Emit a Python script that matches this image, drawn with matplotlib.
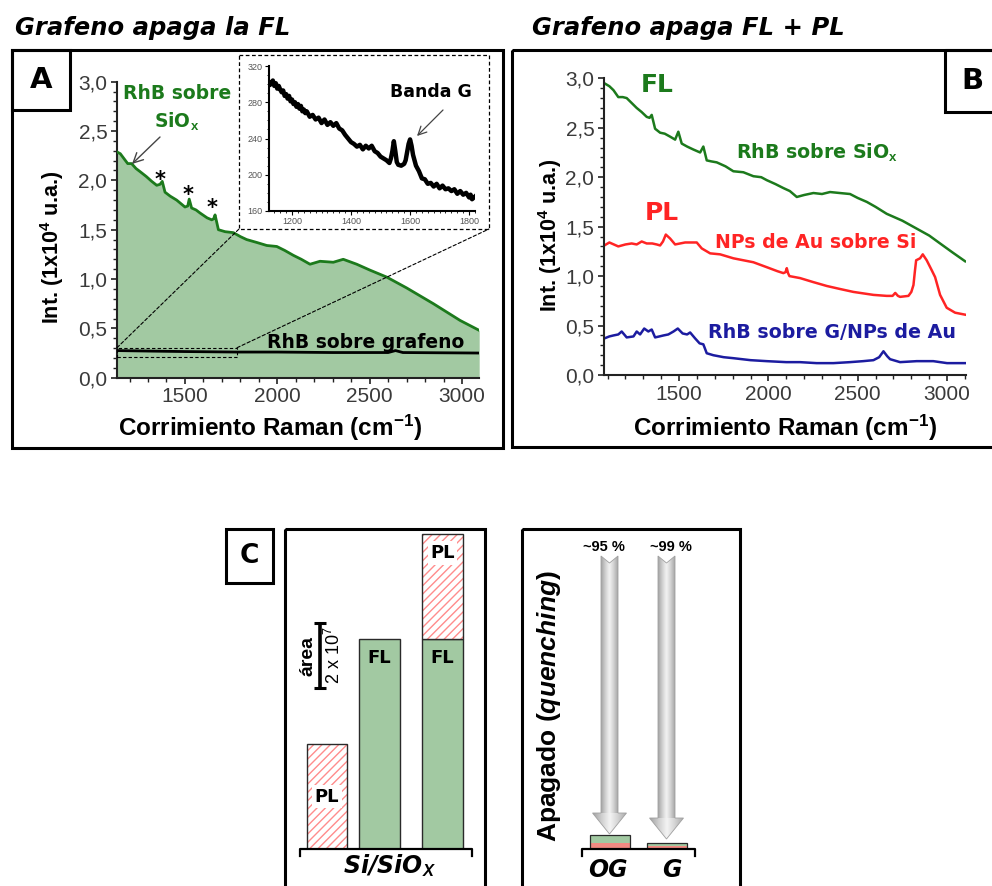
import numpy as np
import matplotlib
matplotlib.use('Agg')
import matplotlib.pyplot as plt
from matplotlib.patches import Rectangle, Polygon, ConnectionPatch
from matplotlib.ticker import MultipleLocator, FuncFormatter
from matplotlib.colors import LinearSegmentedColormap

plt.rcParams['font.family'] = ['DejaVu Sans']
plt.rcParams['mathtext.fontset'] = 'custom'
plt.rcParams['mathtext.rm'] = 'Liberation Sans:bold'
plt.rcParams['mathtext.it'] = 'Liberation Sans:bold:italic'
plt.rcParams['mathtext.bf'] = 'Liberation Sans:bold'
plt.rcParams['mathtext.sf'] = 'Liberation Sans'
plt.rcParams['hatch.linewidth'] = 1.0
NARROW = ['Liberation Sans', 'DejaVu Sans']

# ---------------- data ----------------
# Panel A: RhB on SiOx (fluorescence) and RhB on graphene, intensity in 1e4 a.u.
a_fl_x = [1130, 1150, 1170, 1190, 1211, 1235, 1256, 1290, 1320, 1347, 1365, 1377, 1392,
          1420, 1455, 1500, 1515, 1523, 1536, 1560, 1581, 1620, 1645, 1655, 1663, 1681,
          1717, 1762, 1800, 1834, 1890, 1943, 1997, 2040, 2087, 2130, 2177, 2231, 2303,
          2357, 2430, 2502, 2592, 2700, 2845, 2990, 3093]
a_fl_y = [2.29, 2.27, 2.22, 2.17, 2.17, 2.12, 2.09, 2.04, 1.99, 1.95, 1.96, 1.99, 1.88,
          1.84, 1.80, 1.73, 1.74, 1.81, 1.72, 1.70, 1.67, 1.62, 1.60, 1.61, 1.65, 1.50,
          1.48, 1.47, 1.43, 1.40, 1.37, 1.34, 1.33, 1.29, 1.24, 1.20, 1.15, 1.18, 1.17,
          1.20, 1.15, 1.09, 1.02, 0.91, 0.75, 0.58, 0.48]
a_g_x = [1130, 1300, 1500, 1780, 2000, 2300, 2600, 2640, 2680, 3093]
a_g_y = [0.275, 0.27, 0.265, 0.26, 0.26, 0.255, 0.255, 0.275, 0.255, 0.25]

# Inset: raw Raman spectrum of RhB on graphene (counts)
ins_x = [1120, 1125, 1130, 1135, 1140, 1145, 1150, 1155, 1160, 1165, 1170, 1175, 1180,
         1185, 1190, 1195, 1200, 1205, 1210, 1215, 1220, 1225, 1230, 1235, 1240, 1245,
         1250, 1260, 1270, 1280, 1290, 1300, 1310, 1320, 1330, 1340, 1350, 1360, 1370,
         1380, 1390, 1400, 1410, 1420, 1430, 1440, 1450, 1460, 1470, 1480, 1490, 1500,
         1510, 1520, 1530, 1535, 1540, 1545, 1550, 1555, 1560, 1570, 1580, 1585, 1590,
         1595, 1600, 1605, 1610, 1620, 1630, 1640, 1650, 1660, 1670, 1680, 1690, 1700,
         1710, 1720, 1730, 1740, 1750, 1760, 1770, 1780, 1790, 1800, 1805, 1810, 1820]
ins_y = [303, 299, 301, 304, 298, 301, 295, 298, 294, 291, 293, 287, 289, 284,
         287, 281, 283, 278, 280, 275, 278, 273, 276, 270, 272, 268,
         270, 264, 266, 261, 263, 257, 261, 255, 258, 254, 257, 251, 249,
         244, 240, 236, 234, 231, 233, 228, 232, 229, 232, 226, 224, 220,
         218, 216, 213, 218, 226, 237, 226, 214, 211, 210, 212, 216, 225,
         234, 239, 232, 222, 210, 204, 196, 195, 190, 191, 187, 190, 185,
         188, 184, 185, 182, 184, 179, 182, 178, 180, 175, 178, 173, 176]

# Panel B: FL of RhB on SiOx, PL of Au NPs on Si, RhB on graphene/Au NPs
b_fl_x = [1082, 1110, 1133, 1160, 1185, 1207, 1235, 1263, 1290, 1319, 1335, 1347, 1366,
          1394, 1420, 1450, 1478, 1496, 1515, 1545, 1580, 1618, 1636, 1655, 1680, 1711,
          1760, 1804, 1860, 1916, 1960, 1991, 2040, 2084, 2120, 2159, 2200, 2252, 2300,
          2345, 2400, 2457, 2500, 2551, 2600, 2662, 2750, 2830, 2900, 2961, 3030, 3101]
b_fl_y = [2.95, 2.92, 2.88, 2.81, 2.81, 2.80, 2.75, 2.70, 2.66, 2.61, 2.60, 2.63, 2.49,
          2.45, 2.44, 2.41, 2.38, 2.46, 2.34, 2.31, 2.28, 2.25, 2.31, 2.17, 2.16, 2.15,
          2.11, 2.06, 2.05, 2.01, 2.00, 1.97, 1.93, 1.89, 1.86, 1.80, 1.82, 1.84, 1.83,
          1.85, 1.84, 1.83, 1.79, 1.75, 1.70, 1.63, 1.56, 1.48, 1.41, 1.33, 1.24, 1.15]
b_pl_x = [1082, 1110, 1135, 1160, 1200, 1235, 1263, 1291, 1319, 1350, 1375, 1394, 1410,
          1426, 1450, 1478, 1534, 1599, 1627, 1674, 1730, 1804, 1860, 1916, 1991, 2050,
          2084, 2096, 2103, 2110, 2118, 2177, 2250, 2327, 2400, 2476, 2588, 2662, 2695,
          2710, 2725, 2737, 2784, 2800, 2812, 2820, 2827, 2849, 2864, 2886, 2914, 2933,
          2961, 2998, 3045, 3101]
b_pl_y = [1.31, 1.34, 1.32, 1.30, 1.32, 1.33, 1.32, 1.35, 1.33, 1.33, 1.32, 1.31, 1.35,
          1.42, 1.38, 1.32, 1.34, 1.34, 1.28, 1.23, 1.22, 1.18, 1.16, 1.14, 1.09, 1.05,
          1.03, 1.04, 1.08, 1.03, 1.00, 0.98, 0.94, 0.90, 0.87, 0.84, 0.81, 0.80, 0.80,
          0.83, 0.80, 0.79, 0.80, 0.84, 0.91, 1.05, 1.16, 1.18, 1.22, 1.16, 1.06, 0.99,
          0.81, 0.68, 0.63, 0.61]
b_bl_x = [1082, 1110, 1133, 1160, 1179, 1207, 1245, 1263, 1282, 1305, 1328, 1347, 1366,
          1390, 1413, 1440, 1469, 1493, 1520, 1545, 1562, 1590, 1615, 1636, 1655, 1692,
          1750, 1804, 1900, 1991, 2100, 2177, 2270, 2364, 2457, 2530, 2588, 2620, 2644,
          2665, 2681, 2737, 2830, 2923, 3000, 3101]
b_bl_y = [0.37, 0.39, 0.40, 0.41, 0.44, 0.38, 0.39, 0.44, 0.41, 0.47, 0.44, 0.46, 0.38,
          0.39, 0.40, 0.41, 0.44, 0.47, 0.42, 0.41, 0.43, 0.37, 0.32, 0.31, 0.22, 0.20,
          0.18, 0.17, 0.15, 0.14, 0.13, 0.13, 0.12, 0.12, 0.13, 0.14, 0.15, 0.18, 0.24,
          0.19, 0.16, 0.13, 0.14, 0.14, 0.12, 0.12]

# Panel C: integrated areas (x 1e7) on Si/SiOx
c_pos = [0, 1, 2.2]
c_fl = [0.0, 6.46, 6.46]
c_pl = [3.23, 0.0, 3.23]
# Panel C (right): residual emission after quenching, same units
q_labels = ['OG', 'G']
q_pos = [0, 1]
q_pl = [0.20, 0.08]
q_fl = [0.24, 0.10]
q_text = ['~95 %', '~99 %']

GREEN_LINE = '#1c7a1c'
GREEN_FILL = '#a2c9a2'
RED = '#ff2424'
BLUE = '#1c1ca0'
SALMON = '#f28a82'

W, H = 992, 886
fig = plt.figure(figsize=(W / 100, H / 100), dpi=100)


def px_axes(l, t, r, b, **kw):
    return fig.add_axes([l / W, 1 - b / H, (r - l) / W, (b - t) / H], **kw)


comma = FuncFormatter(lambda v, p: f'{v:.1f}'.replace('.', ','))


def style_spectrum(ax, xlim):
    ax.set_xlim(*xlim)
    ax.set_ylim(0, 3.0)
    ax.patch.set_alpha(0)
    for s in ('top', 'right'):
        ax.spines[s].set_visible(False)
    for s in ('left', 'bottom'):
        ax.spines[s].set_linewidth(1.5)
        ax.spines[s].set_color('#222222')
    ax.xaxis.set_major_locator(MultipleLocator(500))
    ax.xaxis.set_minor_locator(MultipleLocator(100))
    ax.yaxis.set_major_locator(MultipleLocator(0.5))
    ax.yaxis.set_minor_locator(MultipleLocator(0.1))
    ax.yaxis.set_major_formatter(comma)
    ax.tick_params(which='major', direction='out', length=4.5, width=1.2, color='#222222',
                   labelsize=15, labelcolor='#3a3a3a', pad=2.5)
    ax.tick_params(which='minor', direction='out', length=2.6, width=1.0, color='#222222')
    for lab in ax.get_xticklabels() + ax.get_yticklabels():
        lab.set_family(NARROW)


# ---------------- panel A ----------------
axA = px_axes(117, 81.7, 479, 377.7)
style_spectrum(axA, (1132, 3092))
axA.fill_between(a_fl_x, a_fl_y, 0, color=GREEN_FILL, lw=0, zorder=1)
axA.plot(a_fl_x, a_fl_y, color=GREEN_LINE, lw=2.0, zorder=3)
axA.plot(a_g_x, a_g_y, color='black', lw=2.0, zorder=3)
axA.add_patch(Rectangle((1132, 0.207), 1782 - 1132, 0.097, fill=False, ec='black',
                        lw=0.8, ls=(0, (3, 2)), zorder=4, clip_on=False))

# inset
axI = px_axes(269, 66, 475, 211)
axI.plot(ins_x, ins_y, color='black', lw=3.2)
axI.set_xlim(1122, 1820)
axI.set_ylim(160, 320)
for s in ('top', 'right'):
    axI.spines[s].set_visible(False)
for s in ('left', 'bottom'):
    axI.spines[s].set_linewidth(1.5)
axI.xaxis.set_major_locator(MultipleLocator(200))
axI.xaxis.set_minor_locator(MultipleLocator(20))
axI.yaxis.set_major_locator(MultipleLocator(40))
axI.yaxis.set_minor_locator(MultipleLocator(10))
axI.tick_params(which='major', direction='out', length=3, width=0.8,
                labelsize=6.5, labelcolor='#555555', pad=1.5)
axI.tick_params(which='minor', direction='out', length=1.6, width=0.6)
for lab in axI.get_xticklabels() + axI.get_yticklabels():
    lab.set_family(NARROW)

# ---------------- panel B ----------------
axB = px_axes(604, 78.3, 966, 375)
style_spectrum(axB, (1080, 3106))
axB.plot(b_fl_x, b_fl_y, color=GREEN_LINE, lw=1.8)
axB.plot(b_pl_x, b_pl_y, color=RED, lw=1.8)
axB.plot(b_bl_x, b_bl_y, color=BLUE, lw=1.8)

# ---------------- panel C (left) ----------------
YMAX = 320 / 32.5
axC = px_axes(285, 529, 485, 849)
axC.set_xlim(-0.8, 3.01)
axC.set_ylim(0, YMAX)
axC.axis('off')
bw = 0.78
for x, fl, pl in zip(c_pos, c_fl, c_pl):
    if fl > 0:
        axC.bar(x, fl, width=bw, color=GREEN_FILL, edgecolor='#2a2a2a', lw=1.0)
        axC.text(x, fl - 0.58, 'FL', ha='center', va='center', fontsize=13,
                 fontweight='bold')
    if pl > 0:
        axC.bar(x, pl, bottom=fl, width=bw, color='white', edgecolor='#ff8c8c',
                hatch='////', lw=0)
        axC.bar(x, pl, bottom=fl, width=bw, fill=False, edgecolor='#2a2a2a', lw=1.0)
        ty = fl + pl - 0.58 if fl > 0 else pl / 2
        axC.text(x, ty, 'PL', ha='center', va='center', fontsize=13,
                 fontweight='bold',
                 bbox=dict(fc='white', ec='none', boxstyle='square,pad=0.15'))
# baseline bracket
axC.plot([-0.51, -0.51, 2.76, 2.76], [-0.21, 0, 0, -0.21], color='black', lw=1.6,
         clip_on=False)
# scale bar for area
axC.errorbar([-0.14], [5.95], yerr=[1.0], color='black', lw=2.6, capsize=4,
             capthick=2.2)
axC.text(-0.36, 5.95, 'área', rotation=90, ha='center', va='center', fontsize=14,
         fontweight='bold', family=NARROW)
axC.text(0.13, 5.95, '2 x 10$^{\\mathsf{7}}$', rotation=90, ha='center', va='center',
         fontsize=13, family=NARROW)

# ---------------- panel C (right) ----------------
axQ = px_axes(522, 529, 740, 849)
axQ.set_xlim(-1.544, 2.281)
axQ.set_ylim(0, YMAX)
axQ.axis('off')
qw = 0.70
axQ.bar(q_pos, q_pl, width=qw, color=SALMON, lw=0)
axQ.bar(q_pos, q_fl, bottom=q_pl, width=qw, color=GREEN_FILL, lw=0)
axQ.bar(q_pos, np.add(q_pl, q_fl), width=qw, fill=False, edgecolor='#2a2a2a', lw=0.9)
axQ.plot([-0.49, -0.49, 1.49, 1.49], [-0.21, 0, 0, -0.21], color='black', lw=1.6,
         clip_on=False)

# ---------------- overlay in pixel coordinates ----------------
ax_o = fig.add_axes([0, 0, 1, 1], zorder=10)
ax_o.set_xlim(0, W)
ax_o.set_ylim(H, 0)
ax_o.set_autoscale_on(False)
ax_o.axis('off')
ax_o.patch.set_alpha(0)


def frame(x0, y0, x1, y1, lw=2.2, **kw):
    ax_o.add_patch(Rectangle((x0, y0), x1 - x0, y1 - y0, fill=False, ec='black', lw=lw,
                             clip_on=False, **kw))


frame(12, 50, 503, 448)
frame(12, 50, 70, 110)
frame(512, 50, 1000, 447)
frame(945, 50, 1000, 112)
frame(226, 529, 273, 583)
frame(285, 529, 485, 900)
frame(522, 529, 740, 900)
frame(239, 55, 489, 229, lw=0.9, ls=(0, (3, 2)))

for xa, xb in ((1132, (239, 229)), (1782, (489, 229))):
    cp = ConnectionPatch(xyA=(xa, 0.304), coordsA=axA.transData, xyB=xb,
                         coordsB=ax_o.transData, ls=(0, (3, 2)), lw=0.8, color='black',
                         zorder=5)
    fig.add_artist(cp)

# titles and panel letters
ax_o.text(15, 35, 'Grafeno apaga la FL', fontsize=17.5, fontweight='bold',
          fontstyle='oblique', ha='left', va='baseline')
ax_o.text(532, 35, 'Grafeno apaga FL + PL', fontsize=17.5, fontweight='bold',
          fontstyle='oblique', ha='left', va='baseline')
ax_o.text(41, 80, 'A', fontsize=21, fontweight='bold', ha='center', va='center')
ax_o.text(972, 81, 'B', fontsize=21, fontweight='bold', ha='center', va='center')
ax_o.text(249.5, 556, 'C', fontsize=19, fontweight='bold', ha='center', va='center')

# axis labels
for x, y in ((52, 247), (550, 235)):
    ax_o.text(x, y, 'Int. (1x10$^4$ u.a.)', rotation=90, fontsize=15.5,
              fontweight='bold', ha='center', va='center', family=NARROW)
for x in (270, 785):
    ax_o.text(x, 428, 'Corrimiento Raman (cm$^{-1}$)', fontsize=17.5, fontweight='bold',
              ha='center', va='center', family=NARROW)

# panel A annotations
ax_o.text(177, 93, 'RhB sobre', color=GREEN_LINE, fontsize=13.5, fontweight='bold',
          ha='center', va='center')
ax_o.text(177, 121, 'SiO$_\\mathrm{x}$', color=GREEN_LINE, fontsize=13.5,
          fontweight='bold', ha='center', va='center')
ax_o.annotate('', xy=(132, 164), xytext=(160, 137),
              arrowprops=dict(arrowstyle='->,head_length=0.7,head_width=0.35',
                              color='#444444', lw=1.0, shrinkA=0, shrinkB=0))
for sx, sy in ((160, 180), (188, 195), (212, 208)):
    ax_o.text(sx, sy, '*', fontsize=15, fontweight='bold', ha='center', va='center')
ax_o.text(366, 342, 'RhB sobre grafeno', fontsize=13.5, fontweight='bold',
          ha='center', va='center')
ax_o.text(431, 92, 'Banda G', fontsize=12.5, fontweight='bold', ha='center', va='center')
ax_o.annotate('', xy=(417, 136), xytext=(443, 110),
              arrowprops=dict(arrowstyle='->,head_length=0.6,head_width=0.3',
                              color='#444444', lw=0.9, shrinkA=0, shrinkB=0))

# panel B annotations
ax_o.text(657, 85, 'FL', color=GREEN_LINE, fontsize=18, fontweight='bold',
          ha='center', va='center')
ax_o.text(662, 213, 'PL', color=RED, fontsize=18, fontweight='bold',
          ha='center', va='center')
ax_o.text(817, 152, 'RhB sobre SiO$_\\mathrm{x}$', color=GREEN_LINE, fontsize=13.7,
          fontweight='bold', ha='center', va='center')
ax_o.text(816, 242, 'NPs de Au sobre Si', color=RED, fontsize=13.6,
          fontweight='bold', ha='center', va='center')
ax_o.text(832, 333, 'RhB sobre G/NPs de Au', color=BLUE, fontsize=13.7,
          fontweight='bold', ha='center', va='center')

# panel C texts
ax_o.text(389, 866, 'Si/SiO$_X$', fontsize=17, fontweight='bold', fontstyle='oblique',
          ha='center', va='center')
for lbl, x in zip(q_labels, (608, 672)):
    ax_o.text(x, 870, lbl, fontsize=17, fontweight='bold', fontstyle='oblique',
              ha='center', va='center')
ax_o.text(549, 706, 'Apagado ($quenching$)', rotation=90, fontsize=19,
          fontweight='bold', ha='center', va='center', family=NARROW)
for txt, x in zip(q_text, (604, 671)):
    ax_o.text(x, 547, txt, fontsize=10.5, fontweight='bold', ha='center', va='center',
              family=NARROW)

# shaded downward arrows
tube = LinearSegmentedColormap.from_list(
    'tube', ['#a4a4a4', '#cfcfcf', '#f4f4f4', '#d2d2d2', '#a8a8a8'])
grad = np.linspace(0, 1, 64).reshape(1, -1)


def gray_arrow(cx, top, tip, shaft_hw=8.5, head_hw=17, head_len=21, notch=7):
    hs = tip - head_len
    shaft = Polygon([(cx - shaft_hw, top), (cx, top + notch), (cx + shaft_hw, top),
                     (cx + shaft_hw, hs + 1), (cx - shaft_hw, hs + 1)],
                    closed=True, fc='none', ec='none')
    head = Polygon([(cx - head_hw, hs), (cx + head_hw, hs), (cx, tip)],
                   closed=True, fc='none', ec='none')
    for poly, hw, y0, y1 in ((shaft, shaft_hw, top, hs + 1), (head, head_hw, hs, tip)):
        ax_o.add_patch(poly)
        im = ax_o.imshow(grad, cmap=tube, extent=(cx - hw, cx + hw, y1, y0),
                         aspect='auto', interpolation='bicubic', zorder=2)
        im.set_clip_path(poly)
    outline = [(cx - shaft_hw, top), (cx, top + notch), (cx + shaft_hw, top),
               (cx + shaft_hw, hs), (cx + head_hw, hs), (cx, tip),
               (cx - head_hw, hs), (cx - shaft_hw, hs)]
    ax_o.add_patch(Polygon(outline, closed=True, fill=False, ec='#a0a0a0', lw=0.6,
                           zorder=3))


gray_arrow(609.5, 556, 834)
gray_arrow(666.5, 556, 839)

fig.savefig('out.png', dpi=100)
